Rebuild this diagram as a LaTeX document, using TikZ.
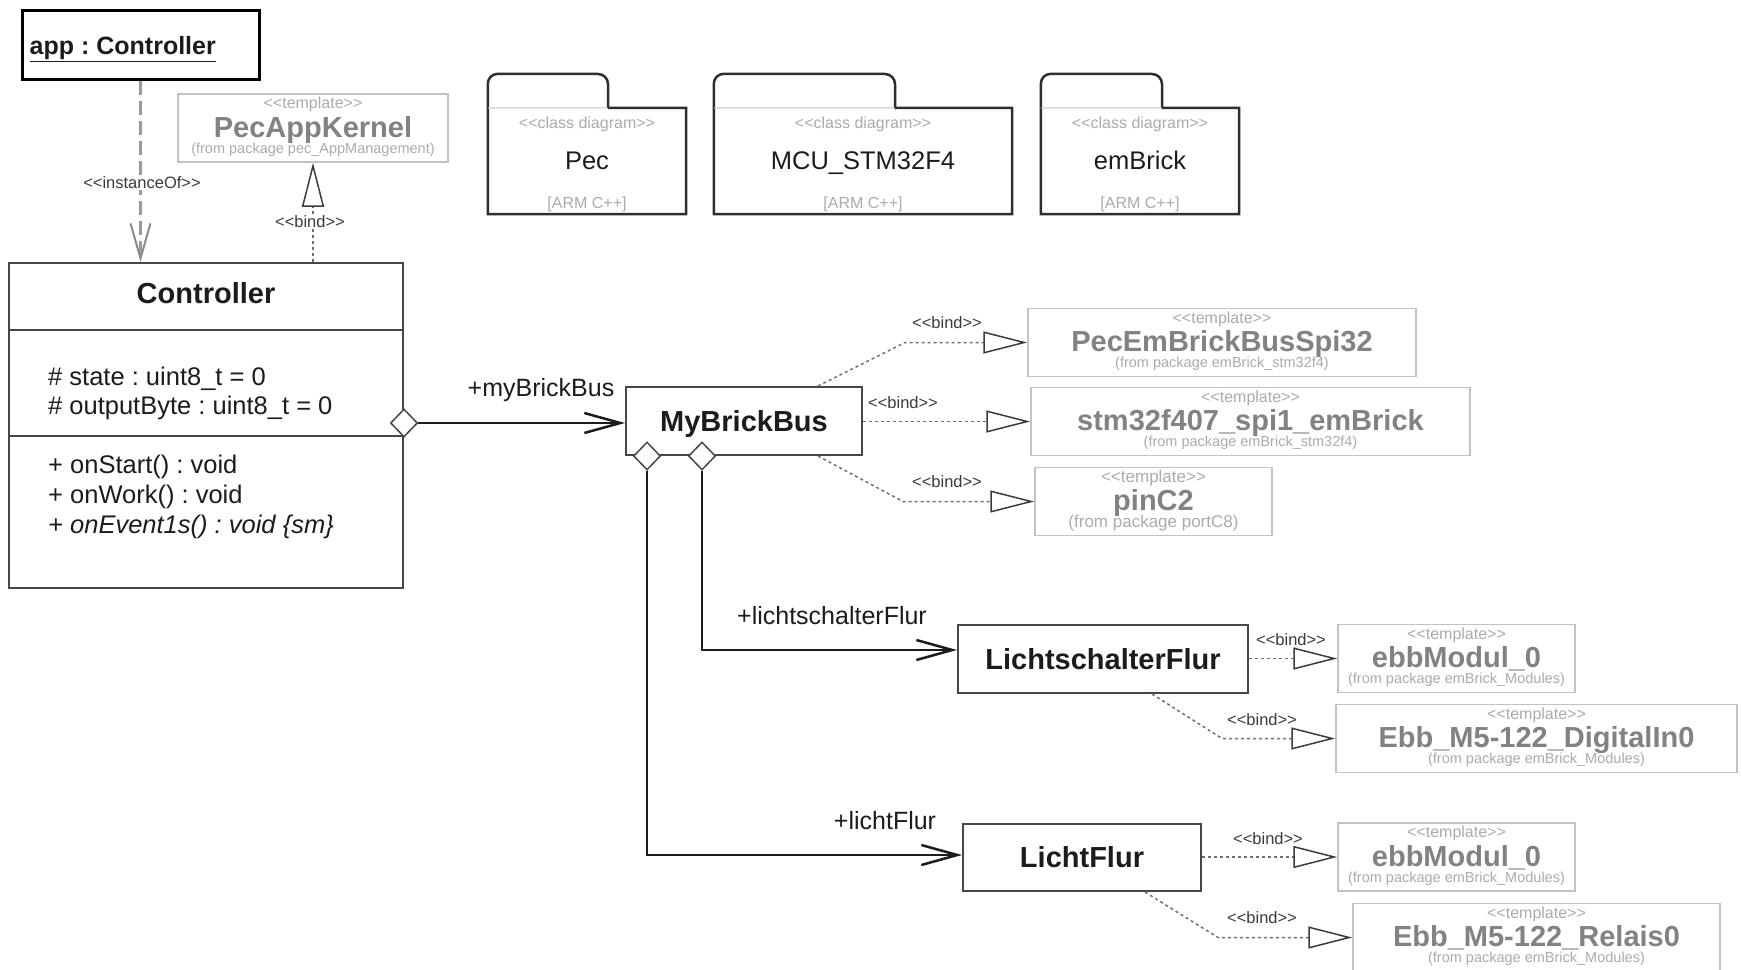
\documentclass[tikz,border=0pt]{standalone}
\usepackage{fontspec}
\setmainfont{Liberation Sans}
\usetikzlibrary{arrows.meta,shapes.geometric,calc}
\frenchspacing
\definecolor{clsline}{HTML}{474747}
\definecolor{pkgc}{HTML}{2E2E2E}
\definecolor{tlinec}{HTML}{C2C2C2}
\definecolor{tnamec}{HTML}{828282}
\definecolor{ttagc}{HTML}{ABABAB}
\definecolor{bindc}{HTML}{707070}
\definecolor{tipc}{HTML}{3C3C3C}
\definecolor{txtc}{HTML}{1C1C1C}
\definecolor{lblc}{HTML}{3A3A3A}
\definecolor{instc}{HTML}{9A9A9A}

\newcommand\tmplbox[7][]{%
  \node[tbox, minimum width=#5pt] (#2) at (#3,#4) {};
  \node[ttag,#1] at ($(#2.center)+(0,-25)$) {<{}<template>{}>};
  \node[tname] at ($(#2.center)+(0,-1)$) {#6};
  \node[tfrom,#1] at ($(#2.center)+(0,20)$) {(from package #7)};
}
\newcommand\pkgbox[5]{%
  \node[inner sep=0pt, minimum width=#3pt, minimum height=106pt] (#1) at (#2,161) {};
  \draw[pkgl, rounded corners=10pt] (#1.north west) -- ($(#1.north west)+(0,-34)$) -- (#4,74) -- (#4,108);
  \draw[pkgl] (#4,108) -- (#1.north east) -- (#1.south east) -- (#1.south west) -- (#1.north west);
  \draw[tlinec, line width=1pt] (#1.north west) -- (#4,108);
  \node[ptag] at ($(#1.center)+(0,-38)$) {<{}<class diagram>{}>};
  \node[pname] at ($(#1.center)+(0,-1)$) {#5};
  \node[ptag] at ($(#1.center)+(0,42)$) {[ARM C++]};
}

\begin{document}
\begin{tikzpicture}[x=1pt,y=-1pt,
  cls/.style={draw=clsline, line width=2pt, fill=white, inner sep=0pt,
    text=txtc, font=\fontsize{29}{34}\selectfont\bfseries, text height=20.8pt, text depth=0pt},
  tbox/.style={draw=tlinec, line width=1.5pt, minimum height=68pt, inner sep=0pt},
  ttag/.style={text=ttagc, font=\fontsize{16}{19}\selectfont, text height=11.5pt, text depth=0pt, inner sep=0pt},
  tname/.style={text=tnamec, font=\fontsize{29}{34}\selectfont\bfseries, text height=20.8pt, text depth=0pt, inner sep=0pt},
  tfrom/.style={text=ttagc, font=\fontsize{14.5}{17}\selectfont, text height=10.4pt, text depth=0pt, inner sep=0pt},
  ptag/.style={text=ttagc, font=\fontsize{16}{19}\selectfont, text height=11.5pt, text depth=0pt, inner sep=0pt},
  pname/.style={text=txtc, font=\fontsize{25.5}{30}\selectfont, text height=18.3pt, text depth=0pt, inner sep=0pt},
  pkgl/.style={draw=pkgc, line width=2.5pt, line cap=square},
  member/.style={anchor=west, text=txtc, font=\fontsize{25.5}{30}\selectfont, text height=18.3pt, text depth=0pt, inner sep=0pt},
  role/.style={text=txtc, font=\fontsize{25}{30}\selectfont, text height=18pt, text depth=0pt, inner sep=0pt},
  small/.style={text=lblc, font=\fontsize{16.5}{19}\selectfont, text height=11.8pt, text depth=0pt, inner sep=0pt},
  bindl/.style={draw=bindc, line width=1.5pt, dash pattern=on 3pt off 3pt,
    -{Triangle[length=44pt, width=22pt, fill=white, color=tipc, line width=1.5pt]}},
  assoc/.style={draw=txtc, line width=2.5pt, -{Straight Barb[length=36pt, width=20pt, line width=2.5pt]}},
  inst/.style={draw=instc, line width=2.5pt, dash pattern=on 14pt off 6pt,
    -{Straight Barb[length=35pt, width=20pt, line width=2pt, color=instc!90!black]}},
  dmd/.style={diamond, draw=clsline, line width=1.5pt, fill=white, minimum width=27pt, minimum height=28pt, inner sep=0pt}
]
\useasboundingbox[fill=white] (0,0) rectangle (1742,969);

% object
\node[draw=black, line width=3pt, minimum width=237pt, minimum height=69pt, inner sep=0pt] (app) at (140.5,44.5) {};
\node[anchor=west, inner sep=0pt, text=txtc, font=\fontsize{25}{30}\selectfont\bfseries, text height=18pt, text depth=0pt] (appt) at ($(app.west)+(9,1)$) {\underline{app : Controller}};

% template PecAppKernel
\tmplbox{pak}{313}{128}{270}{PecAppKernel}{pec\_AppManagement}

% packages
\pkgbox{pec}{587}{198}{608}{Pec}
\pkgbox{mcu}{863}{298}{895}{MCU\_STM32F4}
\pkgbox{emb}{1140}{198}{1162}{emBrick}

% Controller class
\node[cls, minimum width=394pt, minimum height=325pt] (ctrl) at (206,425.5) {};
\draw[clsline, line width=2pt] ($(ctrl.north west)+(0,68)$) -- ($(ctrl.north east)+(0,68)$);
\draw[clsline, line width=2pt] ($(ctrl.north west)+(0,174)$) -- ($(ctrl.north east)+(0,174)$);
\node[cls, draw=none, fill=none] (ctrln) at ($(ctrl.north)+(0,31)$) {Controller};
\node[member] (a1) at (48,376) {\# state : uint8\_t = 0};
\node[member] (a2) at (48,405) {\# outputByte : uint8\_t = 0};
\node[member] (m1) at (48,464) {+ onStart() : void};
\node[member] (m2) at (48,494) {+ onWork() : void};
\node[member] (m3) at (48,524) {\itshape + onEvent1s() : void \{sm\}};

% other classes
\node[cls, minimum width=236pt, minimum height=68pt] (mbb) at (744,421) {MyBrickBus};
\node[cls, minimum width=290pt, minimum height=68pt] (lsf) at (1103,659) {LichtschalterFlur};
\node[cls, minimum width=238pt, minimum height=67pt] (lf) at (1082,857.5) {LichtFlur};

% templates
\tmplbox{spi}{1222}{342.5}{388}{PecEmBrickBusSpi32}{emBrick\_stm32f4}
\tmplbox{stm}{1250.5}{421.5}{439}{stm32f407\_spi1\_emBrick}{emBrick\_stm32f4}
\tmplbox[font=\fontsize{17}{20}\selectfont, text height=12.2pt]{pin}{1153.5}{501.5}{237}{pinC2}{portC8}
\tmplbox{ebba}{1456.5}{658.5}{237}{ebbModul\_0}{emBrick\_Modules}
\tmplbox{dig}{1536.5}{738.5}{401}{Ebb\_M5-122\_DigitalIn0}{emBrick\_Modules}
\tmplbox{ebbb}{1456.5}{857}{237}{ebbModul\_0}{emBrick\_Modules}
\tmplbox{rel}{1536.5}{937.5}{367}{Ebb\_M5-122\_Relais0}{emBrick\_Modules}

% aggregation diamonds
\node[dmd] (d1) at ($(ctrl.east)+(0,-2.5)$) {};
\node[dmd] (d2) at ($(mbb.south west)+(22,0)$) {};
\node[dmd] (d3) at ($(mbb.south west)+(77,0)$) {};

% associations
\draw[assoc] (d1.east) -- (d1.east -| mbb.west);
\draw[assoc] (d3.south) |- ([yshift=9pt]lsf.west);
\draw[assoc] (d2.south) |- ([yshift=2.5pt]lf.west);
\node[role] (r1) at (541,387) {+myBrickBus};
\node[role] (r2) at (832,615) {+lichtschalterFlur};
\node[role] (r3) at (885,820) {+lichtFlur};

% instanceOf
\draw[inst] (app.south) -- (app.south |- ctrl.north);
\node[small, fill=white, inner sep=1pt] (li) at (142,183) {<{}<instanceOf>{}>};

% bind to PecAppKernel
\draw[bindl] (ctrl.north -| pak.south) -- (pak.south);
\node[small, fill=white, inner sep=1pt] (lb0) at (310,222) {<{}<bind>{}>};

% binds from MyBrickBus
\coordinate (b1) at (905,342.5);
\coordinate (b3) at (903,501.5);
\draw[bindl] ([xshift=-45pt]mbb.north east) -- (b1) -- (spi.west);
\draw[bindl] (mbb.east |- stm.west) -- (stm.west);
\draw[bindl] ([xshift=-45pt]mbb.south east) -- (b3) -- (pin.west);
\node[small] (lb1) at (947,323) {<{}<bind>{}>};
\node[small] (lb2) at (903,403) {<{}<bind>{}>};
\node[small] (lb3) at (947,482) {<{}<bind>{}>};

% binds from LichtschalterFlur
\coordinate (b4) at (1222,738.5);
\draw[bindl] (lsf.east |- ebba.west) -- (ebba.west);
\draw[bindl] ([xshift=49pt]lsf.south) -- (b4) -- (dig.west);
\node[small] (lb4) at (1291,640) {<{}<bind>{}>};
\node[small] (lb5) at (1262,720) {<{}<bind>{}>};

% binds from LichtFlur
\coordinate (b5) at (1218,937.5);
\draw[bindl] (lf.east |- ebbb.west) -- (ebbb.west);
\draw[bindl] ([xshift=63pt]lf.south) -- (b5) -- (rel.west);
\node[small] (lb6) at (1268,839) {<{}<bind>{}>};
\node[small] (lb7) at (1262,918) {<{}<bind>{}>};
\end{tikzpicture}
\end{document}
